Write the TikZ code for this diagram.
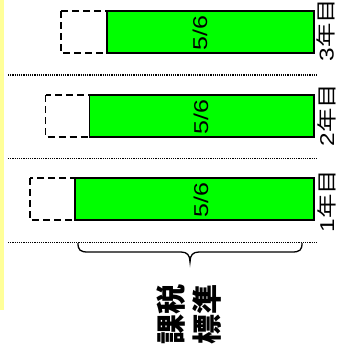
\documentclass[tikz,border=0pt]{standalone}
\usepackage{fontspec}
\setmainfont{Liberation Sans}
\newfontfamily\cjk{Noto Sans CJK JP}
\definecolor{barGreen}{RGB}{0,255,0}
\definecolor{stripYellow}{RGB}{255,255,153}
\begin{document}
\begin{tikzpicture}[x=1pt,y=-1pt,
  fullbar/.style={draw=black,line width=1.3pt,dash pattern=on 7pt off 4pt},
  partbar/.style={draw=black,line width=1.3pt,fill=barGreen},
  sepline/.style={line width=1.2pt,dash pattern=on 1.1pt off 1.1pt},
  fraclbl/.style={rotate=90,inner sep=0pt,font=\fontsize{20}{22}\selectfont},
  yearlbl/.style={rotate=90,inner sep=0pt,font=\fontsize{20}{22}\selectfont},
  bracepath/.style={line width=1.3pt},
]
\useasboundingbox (0,0) rectangle (339,362);
\fill[stripYellow] (0,0) rectangle (3.5,310);
% separators
\draw[sepline] (8,75) -- (318,75);
\draw[sepline] (8,158.5) -- (318,158.5);
\draw[sepline] (8,242.5) -- (318,242.5);
% row 3
\draw[fullbar] (61,11) rectangle (314,53);
\draw[partbar] (107,11) rectangle (314,53);
\node[fraclbl] (f3) at (200,33) {\scalebox{1.25}[1]{5/6}};
\node[yearlbl] (y3) at (326,30) {\scalebox{1.22}[1]{3{\cjk 年目}}};
% row 2
\draw[fullbar] (45.5,95) rectangle (314,137);
\draw[partbar] (89.5,95) rectangle (314,137);
\node[fraclbl] (f2) at (201,117) {\scalebox{1.25}[1]{5/6}};
\node[yearlbl] (y2) at (326.5,115) {\scalebox{1.22}[1]{2{\cjk 年目}}};
% row 1
\draw[fullbar] (30,178) rectangle (314,220);
\draw[partbar] (75,178) rectangle (314,220);
\node[fraclbl] (f1) at (201,200) {\scalebox{1.25}[1]{5/6}};
\node[yearlbl] (y1) at (326.5,201) {\scalebox{1.22}[1]{1{\cjk 年目}}};
% brace
\coordinate (bl) at (78,243);
\coordinate (br) at (302,243);
\coordinate (bt) at (190,262);
\draw[bracepath] (bl) .. controls (78,250) and (80,252) .. (88,252) -- (181,252)
  .. controls (187,252) and (190,255) .. (bt)
  .. controls (190,255) and (193,252) .. (199,252) -- (292,252)
  .. controls (300,252) and (302,250) .. (br);
\node[rotate=90,align=center,inner sep=0pt,font=\cjk\bfseries\fontsize{30}{36}\selectfont] (ks) at (189,314) {課税\\標準};
\end{tikzpicture}
\end{document}
